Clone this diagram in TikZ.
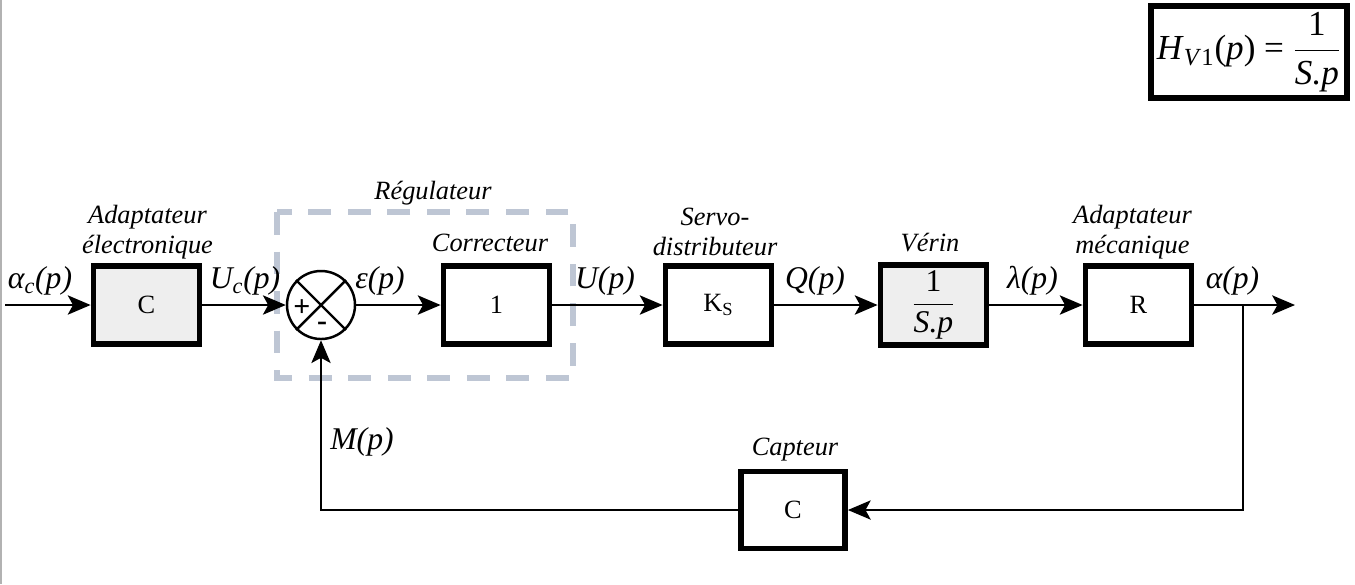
\documentclass[tikz,border=0pt]{standalone}
\usepackage{amsmath}
\usepackage{fontspec}
\setmainfont{Liberation Serif}
\usetikzlibrary{arrows.meta}
\definecolor{boxgray}{RGB}{238,238,238}
\definecolor{dashgray}{RGB}{190,198,212}
\newcommand{\frc}[2]{$\dfrac{\text{#1}}{\text{\itshape #2}}$}
\begin{document}
\begin{tikzpicture}[
    block/.style={draw, line width=3.3pt, minimum width=2.12cm, minimum height=1.56cm, font=\fontsize{15}{15}\selectfont},
    lbl/.style={font=\fontsize{15}{17}\selectfont\itshape, align=center},
    sig/.style={font=\fontsize{18}{18}\selectfont\itshape},
    link/.style={line width=1.1pt, -{Stealth[length=13pt, width=11pt, inset=3pt]}},
    back/.style={line width=0.8pt}
  ]
    \useasboundingbox (0,0) rectangle (27.1,-11.68);
    \draw[gray!60, line width=1pt] (0.02,0) -- (0.02,-11.68);
    % blocks of the direct chain
    \node[block, fill=boxgray] (adapt) at (2.93,-6.1) {C};
    \node[draw, circle, line width=1.4pt, minimum size=1.36cm] (sum) at (6.42,-6.1) {};
    \node[block] (corr) at (9.93,-6.1) {1};
    \node[block] (servo) at (14.37,-6.1) {K\textsubscript{S}};
    \node[block, fill=boxgray, font=\fontsize{18}{18}\selectfont] (verin) at (18.67,-6.1) {\frc{1}{S.p}};
    \node[block] (meca) at (22.77,-6.1) {R};
    \node[block, minimum width=2.08cm, minimum height=1.54cm] (capt) at (15.86,-10.2) {C};
    \node[draw, line width=3.3pt, minimum width=3.86cm, minimum height=1.82cm, font=\fontsize{20}{20}\selectfont] (hv) at (24.98,-1.04)
      {\textit{H}\textsubscript{\textit{V}1}(\textit{p}) = \frc{1}{S.p}};
    % regulateur frame
    \draw[dashgray, line width=3.4pt, dash pattern=on 13pt off 9.5pt] (5.54,-4.24) rectangle (11.46,-7.56);
    \node[lbl] (reg) at (8.66,-3.86) {Régulateur};
    % sum cross and signs
    \draw[line width=1.4pt] (sum.north west) -- (sum.south east) (sum.north east) -- (sum.south west);
    \node[font=\fontsize{17}{17}\selectfont\bfseries] (plus) at (6.04,-6.16) {+};
    \node[font=\fontsize{17}{17}\selectfont\bfseries] (minus) at (6.44,-6.52) {-};
    % block titles
    \node[lbl] at (2.95,-4.64) {Adaptateur\\électronique};
    \node[lbl] at (9.8,-4.86) {Correcteur};
    \node[lbl] at (14.3,-4.64) {Servo-\\distributeur};
    \node[lbl] at (18.6,-4.86) {Vérin};
    \node[lbl] at (22.65,-4.64) {Adaptateur\\mécanique};
    \node[lbl] at (15.9,-9.0) {Capteur};
    % connectors
    \coordinate (in) at (0.1,-6.1);
    \coordinate (out) at (25.9,-6.1);
    \coordinate (branch) at (24.86,-6.1);
    \draw[link] (in) -- (adapt);
    \draw[link] (adapt) -- (sum);
    \draw[link] (sum) -- (corr);
    \draw[link] (corr) -- (servo);
    \draw[link] (servo) -- (verin);
    \draw[link] (verin) -- (meca);
    \draw[link] (meca) -- (out);
    \draw[back, -{Stealth[length=13pt, width=11pt, inset=3pt]}] (branch) |- (capt.east);
    \draw[back, -{Stealth[length=13pt, width=11pt, inset=3pt]}] (capt.west) -| (sum.south);
    % signals
    \node[sig] at (0.8,-5.62) {α\textsubscript{c}(p)};
    \node[sig] at (4.9,-5.62) {U\textsubscript{c}(p)};
    \node[sig] at (7.6,-5.62) {ε(p)};
    \node[sig] at (12.1,-5.62) {U(p)};
    \node[sig] at (16.3,-5.62) {Q(p)};
    \node[sig] at (20.65,-5.62) {λ(p)};
    \node[sig] at (24.65,-5.62) {α(p)};
    \node[sig] at (7.24,-8.84) {M(p)};
  \end{tikzpicture}
\end{document}
